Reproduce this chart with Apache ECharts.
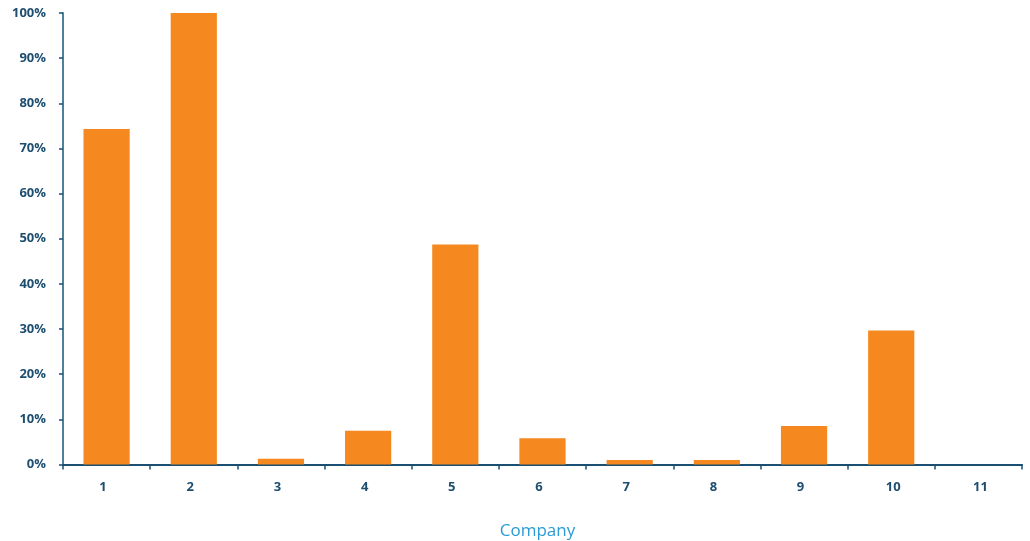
<!DOCTYPE html>
<html>
<head>
<meta charset="utf-8">
<script src="https://cdn.jsdelivr.net/npm/echarts@6/dist/echarts.min.js"></script>
<style>
  html, body { margin: 0; padding: 0; background: #ffffff; }
  #chart { width: 1030px; height: 541px; }
</style>
</head>
<body>
<div id="chart"></div>
<script>
// Share per company (percent)
const companies = ['1', '2', '3', '4', '5', '6', '7', '8', '9', '10', '11'];
const shares = [74.3, 100, 1.3, 7.5, 48.7, 5.8, 1.0, 1.0, 8.5, 29.7, 0];
const yTicks = [0, 10, 20, 30, 40, 50, 60, 70, 80, 90, 100];

const labelColor = '#1d4e70';
const labelFont = { color: labelColor, fontSize: 13, fontWeight: 'bold', fontFamily: 'Open Sans' };
const chart = echarts.init(document.getElementById('chart'));
chart.setOption({
  animation: false,
  grid: { left: 63, right: 8, top: 13, bottom: 76.5, outerBoundsMode: 'none' },
  xAxis: {
    type: 'category',
    data: companies,
    name: 'Company',
    nameLocation: 'middle',
    nameGap: 58,
    nameTextStyle: { color: '#2a9bd5', fontSize: 17, fontFamily: 'Open Sans', padding: [0, 10, 0, 0] },
    axisLine: { lineStyle: { color: '#1b4f72', width: 2 } },
    axisTick: { show: true, length: 5, lineStyle: { color: '#1b4f72', width: 1.5 } },
    axisLabel: {
      ...labelFont,
      margin: 16,
      // single-digit labels sit a little left of the bar centre, two-digit ones a little right
      formatter: v => (v.length === 1 ? '{s|' + v + '}' : '{d|' + v + '}'),
      rich: {
        s: { ...labelFont, padding: [0, 7, 0, 0] },
        d: { ...labelFont, padding: [0, 0, 0, 4] }
      }
    }
  },
  yAxis: {
    type: 'value',
    min: yTicks[0],
    max: yTicks[yTicks.length - 1],
    interval: 10,
    splitLine: { show: false },
    axisLine: { show: true, lineStyle: { color: '#4f7f9c', width: 2 } },
    axisTick: { show: true, length: 4, lineStyle: { color: '#1b4f72', width: 1.5 } },
    axisLabel: {
      ...labelFont, margin: 17,
      formatter: v => v + '%'
    }
  },
  series: [{
    type: 'bar',
    data: shares,
    barWidth: '53%',
    itemStyle: { color: '#f5891f' }
  }]
});
</script>
</body>
</html>
